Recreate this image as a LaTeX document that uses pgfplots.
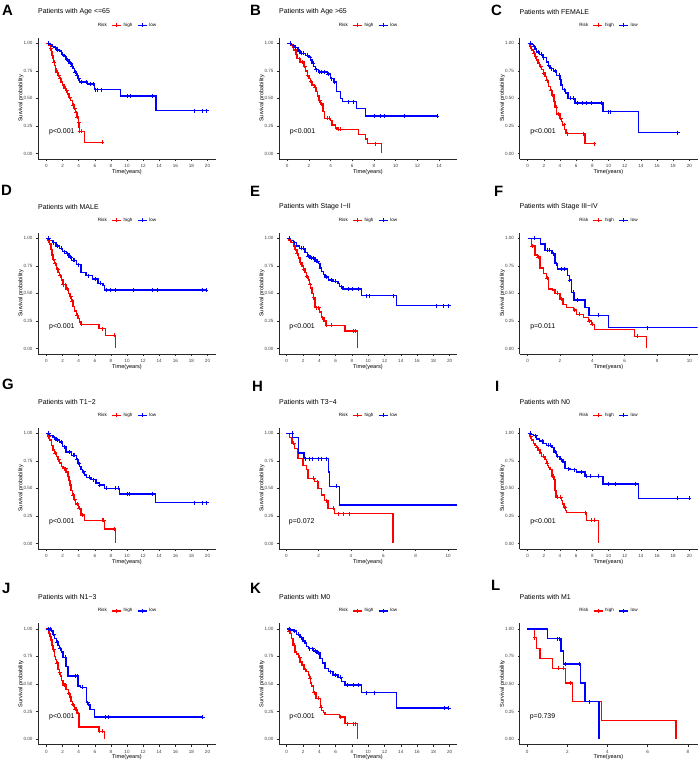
\documentclass[border=0pt]{standalone}
\usepackage{fontspec}
\setmainfont{Liberation Sans}
\usepackage{pgfplots}
\pgfplotsset{compat=1.18}
\definecolor{kmred}{RGB}{255,0,0}
\definecolor{kmblue}{RGB}{0,0,255}
\definecolor{axgray}{RGB}{40,40,40}

\pgfplotsset{
  km/.style={
    scale only axis, width=178bp, height=121.2bp, anchor=south west,
    axis lines*=left, clip mode=individual,
    ymin=-0.05, ymax=1.05,
    ytick={0,0.25,0.5,0.75,1},
    /pgf/number format/assume math mode=true,
    yticklabel style={/pgf/number format/fixed, /pgf/number format/fixed zerofill, /pgf/number format/precision=2},
    xticklabel style={/pgf/number format/fixed},
    tick align=outside,
    major tick length=2bp,
    tick style={draw=axgray, line width=0.5bp},
    axis line style={draw=axgray, line width=0.6bp},
    ticklabel style={font=\fontsize{4.6}{5}\selectfont, text=black!75},
    xlabel={Time(years)}, ylabel={Survival probability},
    label style={font=\fontsize{5.6}{6}\selectfont},
    xlabel style={at={(axis description cs:0.5,-0.105)}, anchor=center},
    ylabel style={at={(axis description cs:-0.0955,0.5)}, anchor=center},
    legend style={at={(axis description cs:0.5,1)}, anchor=center, yshift=12.5bp, draw=none, fill=none, font=\fontsize{4.6}{5}\selectfont, inner sep=0pt, /tikz/every even column/.append style={column sep=2.5bp}},
    legend columns=-1,
    legend image code/.code={\draw[mark repeat=2,mark phase=2,##1] plot coordinates {(0bp,0bp)(4.5bp,0bp)(9bp,0bp)};},
  },
  hi/.style={const plot, color=kmred, line width=1.4bp, forget plot},
  lo/.style={const plot, color=kmblue, line width=1.4bp, forget plot},
  hic/.style={only marks, mark=+, mark size=2bp, color=kmred, mark options={color=kmred, line width=0.8bp}, forget plot},
  loc/.style={only marks, mark=+, mark size=2bp, color=kmblue, mark options={color=kmblue, line width=0.8bp}, forget plot},
}
\newcommand{\kmlegend}{%
  \addlegendimage{empty legend}\addlegendentry{Risk}
  \addlegendimage{color=kmred, line width=1.4bp, mark=+, mark size=2bp, mark options={color=kmred, line width=0.8bp}}\addlegendentry{high}
  \addlegendimage{color=kmblue, line width=1.4bp, mark=+, mark size=2bp, mark options={color=kmblue, line width=0.8bp}}\addlegendentry{low}
}
\newcommand{\kmtitle}[2]{%
  \node[anchor=west, inner sep=0pt, yshift=26bp, font=\fontsize{7}{8}\selectfont] at (axis description cs:0,1) {#1};
  \node[anchor=west, inner sep=0pt, xshift=2.5bp, font=\fontsize{7}{8}\selectfont] at (axis cs:0,0.2) {#2};
}

\begin{document}
\begin{tikzpicture}
\useasboundingbox (0,0) rectangle (699bp,-761bp);

% ---------- A ----------
\begin{axis}[km, at={(38bp,-159bp)}, xmin=-1.05, xmax=21.05, xtick={0,2,...,20}]
\kmlegend
\addplot[hi] coordinates {(0,1)(0.3,0.98)(0.5,0.95)(0.6,0.92)(0.7,0.89)(0.8,0.86)(0.9,0.83)(1.0,0.80)(1.1,0.77)(1.2,0.74)(1.4,0.71)(1.6,0.68)(1.8,0.65)(2.0,0.62)(2.2,0.59)(2.4,0.57)(2.6,0.54)(2.8,0.51)(3.0,0.48)(3.2,0.44)(3.4,0.41)(3.6,0.37)(3.8,0.33)(3.95,0.28)(4.05,0.24)(4.1,0.20)(4.75,0.10)(6.9,0.10)};
\addplot[lo] coordinates {(0,1)(0.4,0.99)(0.7,0.97)(1.0,0.96)(1.3,0.94)(1.6,0.93)(1.9,0.90)(2.2,0.88)(2.5,0.85)(2.8,0.82)(3.1,0.79)(3.3,0.77)(3.5,0.74)(3.7,0.71)(3.9,0.68)(4.1,0.65)(5.1,0.63)(6.0,0.58)(9.2,0.52)(13.6,0.39)(19.9,0.39)};
\addplot[hic] coordinates {(0.2,1)(0.55,0.95)(0.95,0.83)(1.3,0.74)(1.5,0.71)(1.7,0.68)(2.3,0.59)(2.5,0.57)(2.9,0.51)(3.3,0.44)(3.5,0.41)(3.7,0.37)(3.85,0.33)(4.0,0.28)(4.15,0.20)(4.3,0.20)(6.9,0.10)};
\addplot[loc] coordinates {(0.3,1)(1.1,0.96)(1.4,0.94)(2.0,0.90)(2.3,0.88)(2.6,0.85)(3.0,0.82)(3.2,0.79)(3.6,0.74)(3.8,0.71)(4.0,0.68)(4.3,0.65)(4.9,0.65)(5.5,0.63)(5.8,0.63)(6.1,0.58)(6.3,0.58)(6.8,0.58)(10.0,0.52)(10.4,0.52)(13.1,0.52)(18.4,0.39)(19.4,0.39)(19.9,0.39)};
\kmtitle{Patients with Age <=65}{p<0.001}
\end{axis}

% ---------- B ----------
\begin{axis}[km, at={(279bp,-159bp)}, xmin=-0.75, xmax=15.65, xtick={0,2,...,14}]
\kmlegend
\addplot[hi] coordinates {(0,1)(0.3,0.98)(0.6,0.94)(0.8,0.90)(0.9,0.86)(1.2,0.83)(1.55,0.79)(1.7,0.75)(1.85,0.71)(2.0,0.68)(2.15,0.65)(2.3,0.62)(2.5,0.60)(2.65,0.56)(2.8,0.52)(2.95,0.48)(3.1,0.45)(3.3,0.38)(3.45,0.32)(4.0,0.30)(4.15,0.26)(4.45,0.23)(4.6,0.22)(6.6,0.17)(7.2,0.13)(7.4,0.09)(8.7,0)};
\addplot[lo] coordinates {(0,1)(0.4,0.98)(0.7,0.96)(1.0,0.93)(1.2,0.91)(1.7,0.89)(2.0,0.87)(2.15,0.85)(2.3,0.82)(2.45,0.79)(2.6,0.76)(2.9,0.74)(3.7,0.72)(4.0,0.68)(4.3,0.65)(4.55,0.56)(4.9,0.50)(5.1,0.47)(6.4,0.41)(7.2,0.34)(13.8,0.34)};
\addplot[hic] coordinates {(0.5,0.98)(1.1,0.86)(1.4,0.83)(1.6,0.79)(1.9,0.71)(2.2,0.65)(2.6,0.60)(3.0,0.48)(3.2,0.45)(3.7,0.32)(3.9,0.32)(4.7,0.22)(4.9,0.22)(8.1,0.09)};
\addplot[loc] coordinates {(0.3,1)(0.6,0.98)(0.8,0.96)(1.1,0.93)(1.3,0.91)(1.5,0.91)(1.9,0.89)(2.1,0.87)(2.4,0.82)(2.7,0.76)(3.0,0.74)(3.2,0.74)(3.4,0.74)(3.8,0.72)(4.1,0.68)(4.4,0.65)(5.6,0.47)(6.1,0.47)(8.0,0.34)(8.6,0.34)(9.0,0.34)(10.8,0.34)(13.8,0.34)};
\kmtitle{Patients with Age >65}{p<0.001}
\end{axis}

% ---------- C ----------
\begin{axis}[km, at={(519.5bp,-159bp)}, xmin=-1, xmax=21, xtick={0,2,...,20}]
\kmlegend
\addplot[hi] coordinates {(0,1)(0.3,0.97)(0.5,0.94)(0.7,0.91)(0.9,0.88)(1.1,0.85)(1.3,0.82)(1.5,0.79)(1.75,0.76)(1.95,0.73)(2.15,0.70)(2.35,0.66)(2.55,0.61)(2.8,0.57)(3.0,0.53)(3.25,0.47)(3.4,0.42)(3.6,0.36)(4.0,0.32)(4.2,0.29)(4.35,0.26)(4.55,0.22)(4.75,0.18)(7.1,0.09)(8.25,0.09)};
\addplot[lo] coordinates {(0,1)(0.5,0.99)(0.7,0.97)(0.9,0.95)(1.1,0.92)(1.5,0.90)(1.9,0.87)(2.35,0.83)(2.55,0.80)(2.75,0.77)(3.2,0.75)(3.6,0.71)(4.0,0.67)(4.15,0.62)(4.3,0.58)(4.7,0.55)(5.0,0.50)(5.85,0.46)(9.3,0.38)(13.7,0.19)(18.55,0.19)};
\addplot[hic] coordinates {(0.4,0.97)(0.8,0.91)(1.0,0.88)(1.6,0.79)(2.0,0.73)(2.4,0.66)(2.9,0.57)(3.1,0.53)(3.5,0.42)(3.8,0.36)(4.1,0.32)(4.5,0.26)(4.9,0.18)(6.9,0.18)(8.25,0.09)};
\addplot[loc] coordinates {(0.4,1)(0.8,0.97)(1.3,0.92)(1.7,0.90)(2.0,0.87)(2.6,0.80)(3.0,0.77)(3.4,0.75)(3.9,0.71)(4.5,0.58)(5.3,0.50)(5.6,0.50)(6.2,0.46)(6.8,0.46)(7.3,0.46)(7.9,0.46)(9.1,0.46)(10.0,0.38)(10.2,0.38)(18.55,0.19)};
\kmtitle{Patients with FEMALE}{p<0.001}
\end{axis}

% ---------- D ----------
\begin{axis}[km, at={(38bp,-354bp)}, xmin=-1.05, xmax=21.05, xtick={0,2,...,20}]
\kmlegend
\addplot[hi] coordinates {(0,1)(0.2,0.98)(0.4,0.95)(0.55,0.90)(0.7,0.85)(0.8,0.81)(1.0,0.77)(1.25,0.72)(1.45,0.69)(1.65,0.66)(1.85,0.62)(2.05,0.58)(2.45,0.54)(2.7,0.50)(2.9,0.47)(3.1,0.43)(3.3,0.38)(3.5,0.34)(3.7,0.30)(3.9,0.27)(4.1,0.24)(4.3,0.22)(6.5,0.18)(7.3,0.12)(8.55,0)};
\addplot[lo] coordinates {(0,1)(0.4,0.98)(0.8,0.96)(1.2,0.93)(1.6,0.91)(2.0,0.88)(2.5,0.86)(2.8,0.83)(3.1,0.80)(3.7,0.76)(4.3,0.69)(4.9,0.66)(5.75,0.63)(6.4,0.59)(7.0,0.57)(7.2,0.53)(19.8,0.53)};
\addplot[hic] coordinates {(0.3,0.98)(0.9,0.81)(1.1,0.77)(1.4,0.72)(1.7,0.66)(2.1,0.58)(2.3,0.58)(2.6,0.54)(3.0,0.47)(3.2,0.43)(3.8,0.30)(4.4,0.22)(6.9,0.18)(8.4,0.12)};
\addplot[loc] coordinates {(0.3,1)(0.9,0.96)(1.4,0.93)(1.8,0.91)(2.2,0.88)(2.6,0.86)(3.0,0.83)(3.3,0.80)(3.5,0.80)(4.0,0.76)(5.2,0.66)(6.1,0.63)(6.7,0.59)(7.5,0.53)(8.0,0.53)(8.6,0.53)(10.8,0.53)(13.1,0.53)(13.8,0.53)(19.3,0.53)(19.8,0.53)};
\kmtitle{Patients with MALE}{p<0.001}
\end{axis}

% ---------- E ----------
\begin{axis}[km, at={(279bp,-354bp)}, xmin=-0.95, xmax=20.9, xtick={0,2,...,20}]
\kmlegend
\addplot[hi] coordinates {(0,1)(0.3,0.98)(0.6,0.96)(0.8,0.93)(1.0,0.90)(1.25,0.86)(1.45,0.82)(1.65,0.78)(1.85,0.75)(2.05,0.72)(2.25,0.69)(2.45,0.65)(2.65,0.62)(2.8,0.58)(2.95,0.55)(3.1,0.50)(3.25,0.46)(3.45,0.37)(4.0,0.33)(4.3,0.28)(4.55,0.25)(4.8,0.21)(7.15,0.16)(8.65,0)};
\addplot[lo] coordinates {(0,1)(0.4,0.98)(0.8,0.96)(1.2,0.93)(1.6,0.91)(2.25,0.87)(2.55,0.84)(2.85,0.82)(3.45,0.79)(3.9,0.77)(4.1,0.73)(4.3,0.70)(4.5,0.67)(4.7,0.65)(5.1,0.62)(5.7,0.61)(6.3,0.59)(6.5,0.56)(6.9,0.54)(9.2,0.48)(13.5,0.39)(19.9,0.39)};
\addplot[hic] coordinates {(0.4,0.98)(1.1,0.90)(1.3,0.86)(1.7,0.78)(2.1,0.72)(2.5,0.65)(2.9,0.58)(3.3,0.46)(3.6,0.37)(3.9,0.37)(4.4,0.28)(4.9,0.21)(5.5,0.21)(8.2,0.16)(8.4,0.16)};
\addplot[loc] coordinates {(0.3,1)(1.0,0.96)(1.8,0.91)(2.0,0.91)(2.6,0.84)(3.0,0.82)(3.3,0.82)(3.6,0.79)(3.8,0.79)(4.9,0.65)(5.5,0.62)(6.0,0.61)(6.7,0.56)(7.6,0.54)(8.1,0.54)(8.8,0.54)(9.8,0.48)(10.1,0.48)(13.1,0.48)(18.4,0.39)(19.2,0.39)(19.9,0.39)};
\kmtitle{Patients with Stage I−II}{p<0.001}
\end{axis}

% ---------- F ----------
\begin{axis}[km, at={(519.5bp,-354bp)}, xmin=-0.5, xmax=10.5, xtick={0,2,...,10}]
\kmlegend
\addplot[hi] coordinates {(0,1)(0.25,0.93)(0.45,0.85)(0.6,0.83)(0.76,0.73)(0.97,0.68)(1.18,0.64)(1.28,0.54)(1.55,0.53)(1.7,0.50)(2.0,0.45)(2.2,0.40)(2.4,0.37)(2.83,0.35)(3.03,0.31)(3.45,0.28)(3.75,0.25)(3.96,0.22)(4.15,0.17)(6.6,0.11)(7.36,0)};
\addplot[lo] coordinates {(0,1)(0.8,0.95)(1.07,0.89)(1.5,0.86)(1.7,0.77)(1.85,0.72)(2.45,0.66)(2.58,0.62)(2.72,0.51)(2.87,0.44)(3.55,0.37)(3.8,0.30)(4.99,0.19)(10.5,0.19)};
\addplot[hic] coordinates {(0.3,0.93)(0.65,0.83)(1.2,0.64)(1.85,0.50)(2.1,0.45)(2.9,0.35)(3.2,0.31)(3.8,0.25)(4.0,0.22)(6.8,0.11)};
\addplot[loc] coordinates {(0.4,1)(1.2,0.89)(1.35,0.89)(1.6,0.86)(1.75,0.77)(2.1,0.72)(2.3,0.72)(2.6,0.62)(2.8,0.51)(3.1,0.44)(4.4,0.30)(7.4,0.19)};
\kmtitle{Patients with Stage III−IV}{p=0.011}
\end{axis}

% ---------- G ----------
\begin{axis}[km, at={(38bp,-549bp)}, xmin=-1.05, xmax=21.05, xtick={0,2,...,20}]
\kmlegend
\addplot[hi] coordinates {(0,1)(0.2,0.97)(0.4,0.94)(0.6,0.89)(0.8,0.85)(1.0,0.82)(1.25,0.79)(1.45,0.76)(1.65,0.73)(1.85,0.70)(2.05,0.68)(2.45,0.65)(2.65,0.61)(2.8,0.57)(2.9,0.53)(3.05,0.48)(3.2,0.44)(3.4,0.40)(3.6,0.36)(4.0,0.32)(4.3,0.26)(4.7,0.21)(7.2,0.13)(8.55,0)};
\addplot[lo] coordinates {(0,1)(0.4,0.98)(0.8,0.96)(1.2,0.94)(1.65,0.92)(2.0,0.88)(2.45,0.83)(3.1,0.80)(3.7,0.76)(3.9,0.73)(4.1,0.70)(4.3,0.67)(4.5,0.65)(4.75,0.62)(5.0,0.60)(5.55,0.58)(6.15,0.55)(6.55,0.53)(7.2,0.50)(9.1,0.45)(13.55,0.37)(19.9,0.37)};
\addplot[hic] coordinates {(0.3,0.97)(1.1,0.82)(1.5,0.76)(2.2,0.68)(2.4,0.68)(3.3,0.44)(3.5,0.40)(3.8,0.36)(4.1,0.32)(4.5,0.26)(6.9,0.21)(7.1,0.21)(8.4,0.13)};
\addplot[loc] coordinates {(0.3,1)(1.0,0.96)(1.4,0.94)(1.8,0.92)(2.2,0.88)(2.8,0.83)(3.3,0.80)(3.5,0.80)(3.8,0.76)(4.0,0.73)(4.6,0.65)(5.3,0.60)(5.8,0.58)(6.6,0.53)(7.4,0.50)(8.5,0.50)(8.9,0.50)(10.0,0.45)(10.3,0.45)(13.1,0.45)(18.4,0.37)(19.3,0.37)(19.9,0.37)};
\kmtitle{Patients with T1−2}{p<0.001}
\end{axis}

% ---------- H ----------
\begin{axis}[km, at={(279bp,-549bp)}, xmin=-0.45, xmax=10.55, xtick={0,2,...,10}]
\kmlegend
\addplot[hi] coordinates {(0,1)(0.2,0.96)(0.35,0.91)(0.5,0.86)(0.72,0.77)(1.03,0.71)(1.24,0.67)(1.34,0.59)(1.75,0.56)(1.96,0.50)(2.16,0.44)(2.37,0.39)(2.58,0.32)(2.99,0.27)(6.6,0)};
\addplot[lo] coordinates {(0,1)(0.4,0.96)(0.75,0.82)(1.1,0.77)(2.62,0.65)(2.68,0.52)(3.3,0.35)(10.55,0.35)};
\addplot[hic] coordinates {(0.45,0.91)(1.7,0.59)(1.9,0.56)(2.5,0.39)(2.9,0.32)(3.2,0.27)(3.5,0.27)(3.9,0.27)};
\addplot[loc] coordinates {(0.38,1)(1.2,0.77)(1.4,0.77)(1.6,0.77)(2.0,0.77)(2.2,0.77)(2.5,0.77)(3.1,0.52)};
\kmtitle{Patients with T3−4}{p=0.072}
\end{axis}

% ---------- I ----------
\begin{axis}[km, at={(519.5bp,-549bp)}, xmin=-1, xmax=21, xtick={0,2,...,20}]
\kmlegend
\addplot[hi] coordinates {(0,1)(0.3,0.97)(0.5,0.94)(0.7,0.91)(0.9,0.89)(1.1,0.87)(1.3,0.85)(1.55,0.82)(1.75,0.79)(2.15,0.76)(2.3,0.73)(2.45,0.71)(2.6,0.69)(2.75,0.67)(3.0,0.61)(3.25,0.58)(3.4,0.48)(3.5,0.42)(4.2,0.39)(4.35,0.36)(4.5,0.33)(4.65,0.30)(4.8,0.28)(7.3,0.21)(8.78,0)};
\addplot[lo] coordinates {(0,1)(0.4,0.99)(0.7,0.98)(1.1,0.95)(1.5,0.93)(1.9,0.91)(2.35,0.89)(3.0,0.87)(3.25,0.83)(3.6,0.79)(4.0,0.76)(4.4,0.74)(4.6,0.68)(5.25,0.67)(6.05,0.65)(7.1,0.61)(9.3,0.54)(13.7,0.41)(20,0.41)};
\addplot[hic] coordinates {(0.4,0.97)(1.2,0.87)(1.9,0.79)(2.4,0.73)(3.1,0.61)(3.2,0.61)(3.7,0.42)(4.1,0.42)(4.6,0.33)(7.1,0.28)(7.9,0.21)(8.3,0.21)};
\addplot[loc] coordinates {(0.3,1)(1.0,0.98)(1.8,0.93)(2.6,0.89)(2.8,0.89)(3.4,0.83)(3.7,0.79)(4.2,0.76)(5.1,0.68)(5.8,0.67)(6.6,0.65)(7.3,0.61)(7.8,0.61)(8.8,0.61)(10.0,0.54)(10.9,0.54)(13.3,0.54)(18.5,0.41)(20.0,0.41)};
\kmtitle{Patients with N0}{p<0.001}
\end{axis}

% ---------- J ----------
\begin{axis}[km, at={(38bp,-744.5bp)}, xmin=-1.05, xmax=21.05, xtick={0,2,...,20}]
\kmlegend
\addplot[hi] coordinates {(0,1)(0.3,0.96)(0.45,0.93)(0.55,0.90)(0.7,0.85)(0.8,0.81)(1.0,0.75)(1.1,0.72)(1.25,0.69)(1.45,0.63)(1.6,0.60)(1.75,0.57)(1.9,0.53)(2.05,0.49)(2.45,0.45)(2.7,0.41)(2.9,0.38)(3.05,0.34)(3.2,0.31)(3.5,0.27)(3.8,0.23)(4.05,0.11)(6.5,0.07)(7.2,0)};
\addplot[lo] coordinates {(0,1)(0.6,0.98)(0.8,0.95)(1.0,0.91)(1.25,0.88)(1.45,0.85)(1.65,0.82)(1.85,0.79)(2.05,0.74)(2.45,0.66)(2.65,0.57)(3.9,0.48)(4.2,0.47)(4.95,0.33)(5.25,0.31)(5.4,0.27)(5.95,0.20)(19.4,0.20)};
\addplot[hic] coordinates {(0.2,1)(0.9,0.81)(1.3,0.69)(1.65,0.60)(2.2,0.49)(2.3,0.49)(2.8,0.41)(3.3,0.31)(3.6,0.27)(3.7,0.27)(3.95,0.23)(6.6,0.07)(6.9,0.07)};
\addplot[loc] coordinates {(0.3,1)(0.5,1)(0.9,0.95)(1.3,0.88)(1.7,0.82)(2.3,0.74)(3.6,0.57)(3.8,0.57)(4.5,0.47)(5.1,0.33)(7.3,0.20)(7.7,0.20)(19.4,0.20)};
\kmtitle{Patients with N1−3}{p<0.001}
\end{axis}

% ---------- K ----------
\begin{axis}[km, at={(279bp,-744.5bp)}, xmin=-0.95, xmax=20.9, xtick={0,2,...,20}]
\kmlegend
\addplot[hi] coordinates {(0,1)(0.2,0.98)(0.4,0.96)(0.55,0.91)(0.75,0.85)(1.0,0.79)(1.2,0.77)(1.45,0.74)(1.65,0.70)(1.85,0.67)(2.1,0.63)(2.45,0.61)(2.65,0.58)(2.8,0.55)(2.95,0.51)(3.05,0.48)(3.25,0.42)(3.6,0.37)(4.15,0.29)(4.3,0.26)(4.5,0.24)(4.7,0.22)(6.5,0.20)(7.15,0.14)(8.7,0)};
\addplot[lo] coordinates {(0,1)(0.4,0.99)(0.8,0.98)(1.2,0.95)(1.65,0.92)(2.0,0.89)(2.25,0.87)(2.45,0.84)(2.65,0.82)(3.3,0.80)(3.7,0.78)(4.1,0.73)(4.4,0.69)(4.7,0.64)(5.1,0.61)(5.7,0.58)(6.3,0.56)(6.75,0.52)(7.15,0.49)(9.2,0.42)(13.5,0.28)(19.9,0.28)};
\addplot[hic] coordinates {(0.3,0.98)(0.9,0.85)(1.6,0.74)(2.3,0.63)(2.9,0.55)(3.4,0.42)(3.9,0.37)(4.2,0.29)(6.6,0.20)(7.5,0.14)(8.2,0.14)(8.4,0.14)};
\addplot[loc] coordinates {(0.3,1)(1.0,0.98)(1.4,0.95)(1.8,0.92)(2.8,0.82)(3.2,0.82)(3.5,0.80)(3.9,0.78)(5.3,0.61)(6.0,0.58)(6.6,0.56)(7.4,0.49)(8.2,0.49)(8.8,0.49)(9.8,0.42)(10.8,0.42)(19.4,0.28)(19.9,0.28)};
\kmtitle{Patients with M0}{p<0.001}
\end{axis}

% ---------- L ----------
\begin{axis}[km, at={(519.5bp,-744.5bp)}, xmin=-0.38, xmax=8.48, xtick={0,2,...,8}]
\kmlegend
\addplot[hi] coordinates {(0,1)(0.36,0.92)(0.48,0.82)(0.64,0.73)(1.27,0.64)(1.9,0.51)(2.26,0.34)(3.7,0.17)(7.41,0)};
\addplot[lo] coordinates {(0,1)(1.02,0.91)(1.68,0.80)(1.8,0.68)(2.67,0.51)(2.87,0.34)(3.58,0)};
\addplot[hic] coordinates {(0.38,0.92)(1.55,0.64)(1.8,0.64)(2.15,0.51)};
\addplot[loc] coordinates {(1.5,0.91)(1.6,0.91)(1.9,0.68)(2.6,0.68)(3.1,0.34)};
\kmtitle{Patients with M1}{p=0.739}
\end{axis}

% panel letters
\begin{scope}[every node/.style={anchor=west, inner sep=0pt, font=\bfseries\fontsize{15}{15}\selectfont}]
\node at (2bp,-10bp) {A};
\node at (250bp,-10bp) {B};
\node at (491bp,-10bp) {C};
\node at (1bp,-190bp) {D};
\node at (250bp,-191bp) {E};
\node at (494bp,-191bp) {F};
\node at (2bp,-384bp) {G};
\node at (252bp,-386bp) {H};
\node at (495bp,-386bp) {I};
\node at (2bp,-588bp) {J};
\node at (250bp,-588bp) {K};
\node at (491bp,-585bp) {L};
\end{scope}
\end{tikzpicture}
\end{document}
